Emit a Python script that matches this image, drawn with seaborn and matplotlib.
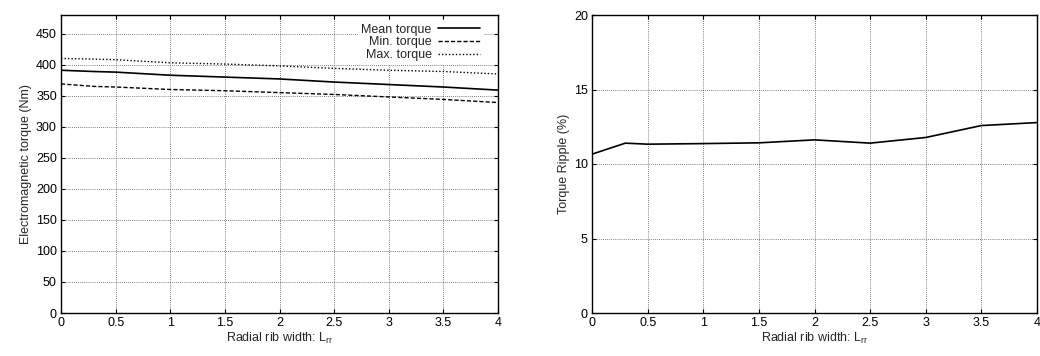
import matplotlib
matplotlib.use("Agg")
import matplotlib.pyplot as plt
import seaborn as sns
import pandas as pd

sns.set_theme(style="ticks")
plt.rcParams['font.family'] = ['Liberation Sans', 'DejaVu Sans']

rib_width = [0, 0.3, 0.5, 1, 1.5, 2, 2.5, 3, 3.5, 4]
mean_torque = [391, 389, 388, 383, 380, 377, 372, 368, 364, 359]
min_torque = [369, 365, 364, 360, 358, 355, 352, 348, 344, 339]
max_torque = [410, 409, 408, 403, 401, 398, 394, 391, 389, 385]
ripple = [10.66, 11.4, 11.33, 11.37, 11.42, 11.62, 11.4, 11.78, 12.58, 12.78]

fs = 9
fig = plt.figure(figsize=(10.4, 3.56), dpi=100)
ax1 = fig.add_axes([61/1040, 1-313/356, (498-61)/1040, (313-15)/356])
ax2 = fig.add_axes([592/1040, 1-313/356, (1037-592)/1040, (313-15)/356])

df = pd.DataFrame({"x": rib_width, "Mean torque": mean_torque,
                   "Min. torque": min_torque, "Max. torque": max_torque,
                   "ripple": ripple})

sns.lineplot(data=df, x="x", y="Mean torque", ax=ax1, color="black", lw=1.2,
             label="Mean torque")
sns.lineplot(data=df, x="x", y="Min. torque", ax=ax1, color="black", lw=1.0,
             linestyle=(0, (3, 1.5)), label="Min. torque")
sns.lineplot(data=df, x="x", y="Max. torque", ax=ax1, color="black", lw=1.0,
             linestyle=(0, (1, 1.5)), label="Max. torque")
sns.lineplot(data=df, x="x", y="ripple", ax=ax2, color="black", lw=1.2)

for ax, ylim, yt, ylab in [(ax1, (0, 480), range(0, 451, 50), "Electromagnetic torque (Nm)"),
                           (ax2, (0, 20), range(0, 21, 5), "Torque Ripple (%)")]:
    ax.set_xlim(0, 4)
    ax.set_ylim(*ylim)
    ax.set_xticks([0, 0.5, 1, 1.5, 2, 2.5, 3, 3.5, 4])
    ax.set_xticklabels(["0", "0.5", "1", "1.5", "2", "2.5", "3", "3.5", "4"])
    ax.set_yticks(list(yt))
    ax.grid(True, color="#555555", linestyle=(0, (1, 1.5)), lw=0.6)
    ax.tick_params(labelsize=fs, direction="in", length=3, width=0.8, colors="black",
                   top=True, right=True, pad=3)
    for s in ax.spines.values():
        s.set_color("black")
        s.set_linewidth(1.0)
    ax.set_xlabel("Radial rib width: L$_{\\mathregular{rr}}$", fontsize=fs, labelpad=1)
    ax.set_ylabel(ylab, fontsize=fs, labelpad=3)

leg = ax1.legend(loc="upper right", bbox_to_anchor=(1 - 14/437, 1 - 5/298),
                 frameon=True, fontsize=fs, markerfirst=False,
                 handlelength=3.4, handletextpad=0.5, labelspacing=0.05,
                 borderaxespad=0.0, borderpad=0.3, fancybox=False)
leg.get_frame().set_facecolor("white")
leg.get_frame().set_edgecolor("none")
leg.get_frame().set_alpha(1)
leg.set_zorder(5)
for t in leg.get_texts():
    t.set_ha("right")

fig.savefig("out.png", dpi=100)
